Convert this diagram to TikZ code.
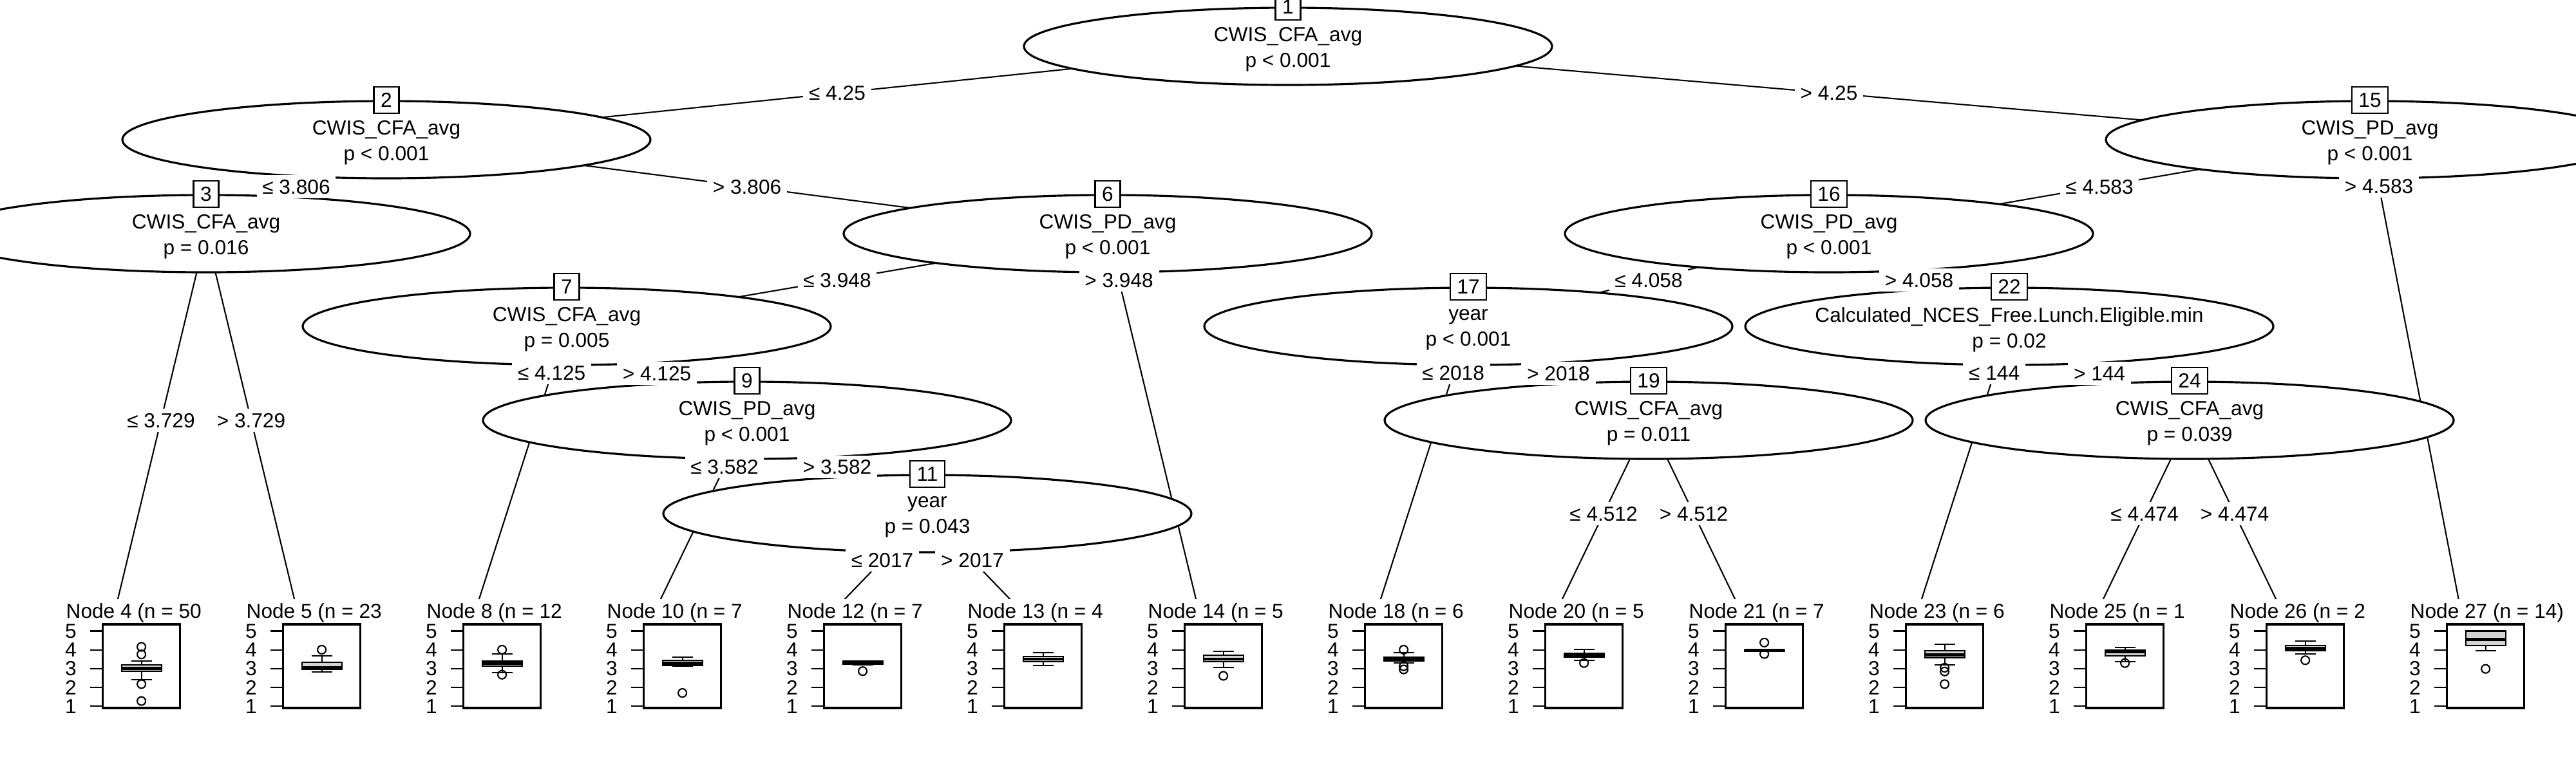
\documentclass[tikz,border=0pt]{standalone}
\usepackage{fontspec}
\setmainfont{Liberation Sans}
\usetikzlibrary{
  positioning,
  shapes.geometric,
  backgrounds
}
\definecolor{boxgray}{HTML}{D3D3D3}

\tikzset{
  splitnode/.style={ellipse, draw, fill=white, line width=0.9pt, minimum width=8.2cm, minimum height=1.2cm, inner sep=0pt},
  vartext/.style={align=center, inner sep=0pt, yshift=-0.05cm},
  idbox/.style={draw, fill=white, line width=0.7pt, inner xsep=3pt, inner ysep=2.6pt, text height=6.5pt, text depth=0pt},
  cutlabel/.style={fill=white, inner xsep=2.5pt, inner ysep=1.6pt, text height=6.6pt, text depth=0.2pt},
  link/.style={line width=0.6pt},
  termpanel/.style={fill=white, minimum width=2.8cm, minimum height=2.1cm, inner sep=0pt, anchor=north},
  nodelab/.style={anchor=base west, inner sep=0pt},
  ticklab/.style={inner sep=0pt},
  plotframe/.style={line width=0.9pt},
  boxpart/.style={line width=0.6pt},
  medianline/.style={line width=1.4pt}
}

\begin{document}
\begin{tikzpicture}[font=\fontsize{9pt}{11.4pt}\selectfont]
  \useasboundingbox (0,0) rectangle (40,-12);

  % Node 1
  \node[splitnode] (n1) at (20.00,-0.72) {};
  \node[vartext] at (n1) {CWIS\_CFA\_avg\\p < 0.001};
  \node[idbox] at (n1.north) {1};

  % Node 2
  \node[splitnode] (n2) at (6.00,-2.17) {};
  \node[vartext] at (n2) {CWIS\_CFA\_avg\\p < 0.001};
  \node[idbox] at (n2.north) {2};

  % Node 15
  \node[splitnode] (n15) at (36.80,-2.17) {};
  \node[vartext] at (n15) {CWIS\_PD\_avg\\p < 0.001};
  \node[idbox] at (n15.north) {15};

  % Node 3
  \node[splitnode] (n3) at (3.20,-3.63) {};
  \node[vartext] at (n3) {CWIS\_CFA\_avg\\p = 0.016};
  \node[idbox] at (n3.north) {3};

  % Node 6
  \node[splitnode] (n6) at (17.20,-3.63) {};
  \node[vartext] at (n6) {CWIS\_PD\_avg\\p < 0.001};
  \node[idbox] at (n6.north) {6};

  % Node 16
  \node[splitnode] (n16) at (28.40,-3.63) {};
  \node[vartext] at (n16) {CWIS\_PD\_avg\\p < 0.001};
  \node[idbox] at (n16.north) {16};

  % Node 7
  \node[splitnode] (n7) at (8.80,-5.07) {};
  \node[vartext] at (n7) {CWIS\_CFA\_avg\\p = 0.005};
  \node[idbox] at (n7.north) {7};

  % Node 17
  \node[splitnode] (n17) at (22.80,-5.07) {};
  \node[vartext] at (n17) {year\\p < 0.001};
  \node[idbox] at (n17.north) {17};

  % Node 22
  \node[splitnode] (n22) at (31.20,-5.07) {};
  \node[vartext] at (n22) {Calculated\_NCES\_Free.Lunch.Eligible.min\\p = 0.02};
  \node[idbox] at (n22.north) {22};

  % Node 9
  \node[splitnode] (n9) at (11.60,-6.53) {};
  \node[vartext] at (n9) {CWIS\_PD\_avg\\p < 0.001};
  \node[idbox] at (n9.north) {9};

  % Node 19
  \node[splitnode] (n19) at (25.60,-6.53) {};
  \node[vartext] at (n19) {CWIS\_CFA\_avg\\p = 0.011};
  \node[idbox] at (n19.north) {19};

  % Node 24
  \node[splitnode] (n24) at (34.00,-6.53) {};
  \node[vartext] at (n24) {CWIS\_CFA\_avg\\p = 0.039};
  \node[idbox] at (n24.north) {24};

  % Node 11
  \node[splitnode] (n11) at (14.40,-7.98) {};
  \node[vartext] at (n11) {year\\p = 0.043};
  \node[idbox] at (n11.north) {11};

  % Terminal boxplots
  \foreach \n/\x/\lab/\lw/\qa/\md/\qb/\hw/\outs in {
      4/1.80/{Node 4 (n = 50}/2.42/2.85/3.01/3.21/3.42/{4.16,3.76,2.18,1.28},
      5/4.60/{Node 5 (n = 23}/2.82/2.96/3.05/3.34/3.67/{4.01},
      8/7.40/{Node 8 (n = 12}/2.79/3.13/3.28/3.42/3.78/{4.01,2.68},
      10/10.20/{Node 10 (n = 7}/3.13/3.17/3.30/3.44/3.62/{1.71},
      12/13.00/{Node 12 (n = 7}/3.21/3.23/3.33/3.40/3.42/{2.87},
      13/15.80/{Node 13 (n = 4}/3.17/3.38/3.51/3.65/3.84/{},
      14/18.60/{Node 14 (n = 5}/3.08/3.36/3.51/3.71/3.91/{2.62},
      18/21.40/{Node 18 (n = 6}/3.30/3.42/3.51/3.62/3.84/{4.01,3.13,2.96},
      20/24.20/{Node 20 (n = 5}/3.45/3.62/3.71/3.82/4.02/{3.30},
      21/27.00/{Node 21 (n = 7}/3.91/3.92/3.96/4.00/4.01/{4.39,3.78},
      23/29.80/{Node 23 (n = 6}/3.19/3.59/3.74/3.96/4.31/{3.05,2.85,2.18},
      25/32.60/{Node 25 (n = 1}/3.38/3.68/3.90/3.99/4.13/{3.30},
      26/35.40/{Node 26 (n = 2}/3.78/3.96/4.07/4.24/4.47/{3.45},
      27/38.20/{Node 27 (n = 14)}/3.96/4.22/4.54/5.00/5.00/{2.99}%
    }{
    \node[termpanel] (t\n) at (\x,-9.30) {};
    \coordinate (e\n) at ([yshift=-0.13cm]t\n.north);
    \node[nodelab] (l\n) at (\x-0.78,-9.60) {\lab};
    \begin{scope}[shift={(\x+0.396,-10.973)}, y=0.292cm]
      \foreach \v in {1,...,5} {
        \draw[boxpart] (-0.796,\v-1) -- (-0.60,\v-1);
        \node[ticklab] at (-1.096,\v-1) {\v};
      }
      \draw[plotframe] (-0.60,-0.09) rectangle (0.60,4.36);
      \draw[boxpart] (0,\lw-1) -- (0,\qa-1) (0,\qb-1) -- (0,\hw-1)
        (-0.16,\lw-1) -- (0.16,\lw-1) (-0.16,\hw-1) -- (0.16,\hw-1);
      \draw[boxpart, fill=boxgray] (-0.31,\qa-1) rectangle (0.31,\qb-1);
      \draw[medianline] (-0.31,\md-1) -- (0.31,\md-1);
      \ifx\outs\empty\else
        \foreach \o in \outs {\draw[boxpart] (0,\o-1) circle[radius=0.065cm];}
      \fi
    \end{scope}
  }

  % Edges and split labels
  \foreach \pa/\ch/\ps/\lab in {
      n1/n2/0.5/{≤ 4.25}, n1/n15/0.5/{> 4.25},
      n2/n3/0.5/{≤ 3.806}, n2/n6/0.5/{> 3.806},
      n3/e4/0.5/{≤ 3.729}, n3/e5/0.5/{> 3.729},
      n6/n7/0.5/{≤ 3.948}, n6/e14/0.125/{> 3.948},
      n7/e8/0.1667/{≤ 4.125}, n7/n9/0.5/{> 4.125},
      n9/e10/0.25/{≤ 3.582}, n9/n11/0.5/{> 3.582},
      n11/e12/0.5/{≤ 2017}, n11/e13/0.5/{> 2017},
      n15/n16/0.5/{≤ 4.583}, n15/e27/0.1/{> 4.583},
      n16/n17/0.5/{≤ 4.058}, n16/n22/0.5/{> 4.058},
      n17/e18/0.1667/{≤ 2018}, n17/n19/0.5/{> 2018},
      n19/e20/0.5/{≤ 4.512}, n19/e21/0.5/{> 4.512},
      n22/e23/0.1667/{≤ 144}, n22/n24/0.5/{> 144},
      n24/e25/0.5/{≤ 4.474}, n24/e26/0.5/{> 4.474}%
    }{
    \begin{scope}[on background layer]
      \draw[link] (\pa.center) -- (\ch.center);
    \end{scope}
    \path (\pa.center) -- node[cutlabel, pos=\ps] {\lab} (\ch.center);
  }
\end{tikzpicture}
\end{document}
